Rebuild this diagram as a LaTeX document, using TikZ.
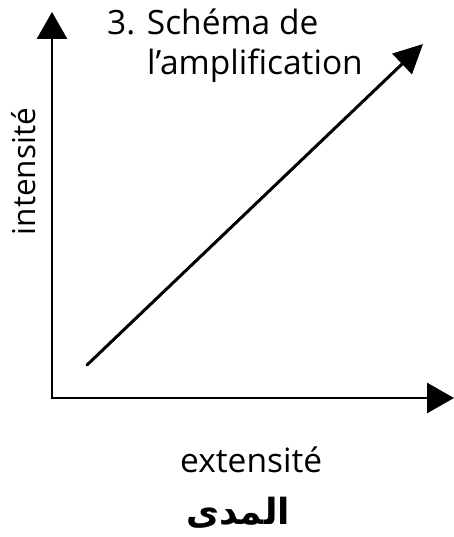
\documentclass[tikz,border=0pt]{standalone}
\usepackage{fontspec}
\setmainfont{Open Sans}
\newfontfamily\arabicfont[Script=Arabic]{DejaVu Sans}
\TeXXeTstate=1
\usetikzlibrary{arrows.meta}
\begin{document}
\begin{tikzpicture}[x=1pt,y=-1pt,
  axis/.style={line width=2.8pt,-{Triangle[length=27pt,width=30pt]}},
  diag/.style={line width=3pt,line cap=round,-{Triangle[length=29pt,width=28pt]}},
  lbl/.style={inner sep=0pt,font=\fontsize{33.5}{40}\selectfont}]
\useasboundingbox (0,0) rectangle (454,537);
\coordinate (o) at (52,398);
\coordinate (ytip) at (52,12);
\coordinate (xtip) at (454,398);
\coordinate (ds) at (87,365);
\coordinate (de) at (423,44);
\draw[axis] (o) -- (ytip);
\draw[axis] ([xshift=-1.4pt]o) -- (xtip);
\draw[diag] (ds) -- (de);
\node[lbl,anchor=base west] (t1) at (107,35) {3. Schéma de};
\node[lbl,anchor=base west] (t2) at (147,75) {l’amplification};
\node[lbl,anchor=base west] (ex) at (180,472) {extensité};
\node[lbl,anchor=base,rotate=90,font=\fontsize{31.5}{38}\selectfont] (in) at (35,171.5) {intensité};
\node[inner sep=0pt,anchor=base] (ar) at (238,524) {\fontsize{36}{42}\selectfont\arabicfont\bfseries\beginR المدى\endR};
\end{tikzpicture}
\end{document}
